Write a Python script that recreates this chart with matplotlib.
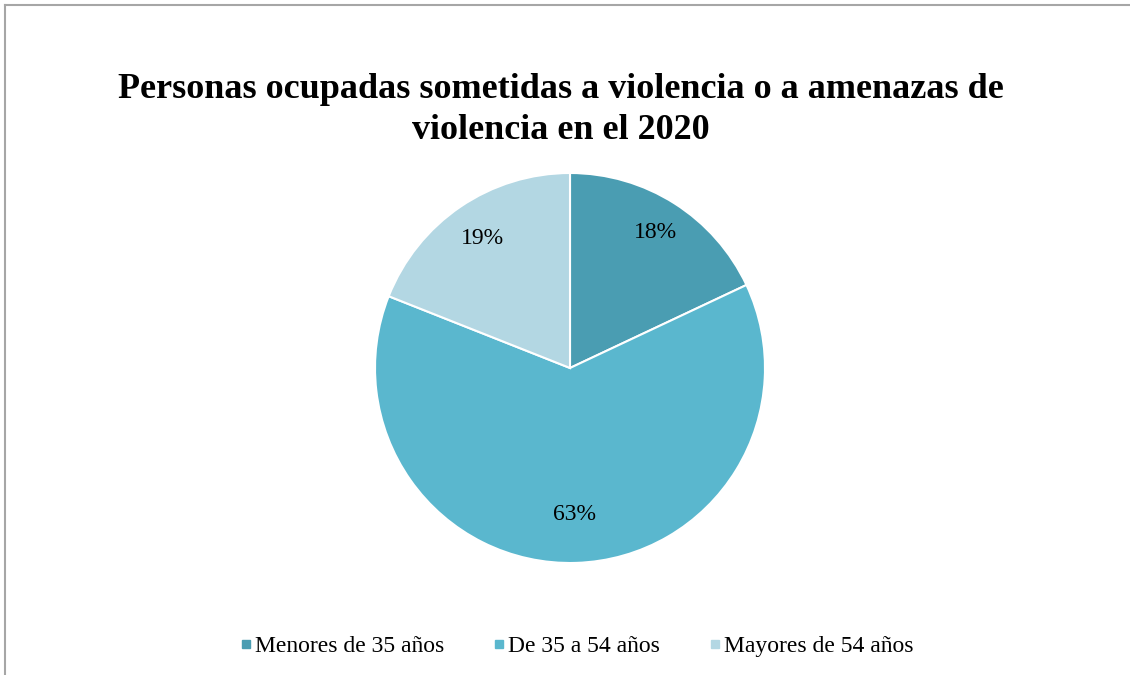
import matplotlib.pyplot as plt
from matplotlib.lines import Line2D
import numpy as np

labels = ["Menores de 35 años", "De 35 a 54 años", "Mayores de 54 años"]
shares = [18, 63, 19]
colors = ["#4A9DB2", "#5AB7CE", "#B3D7E3"]
title = "Personas ocupadas sometidas a violencia o a amenazas de\nviolencia en el 2020"

plt.rcParams["font.family"] = ["Liberation Serif", "DejaVu Serif"]

W, H = 1130, 675
fig = plt.figure(figsize=(W / 100, H / 100), dpi=100)

# frame lines on left and top only
fig.add_artist(Line2D([5 / W, 5 / W], [0, 1 - 5 / H], color="#A6A6A6", lw=1.5))
fig.add_artist(Line2D([5 / W, 1], [1 - 5 / H, 1 - 5 / H], color="#A6A6A6", lw=1.5))

cx, cy, r = 570, 368, 195
ax = fig.add_axes([(cx - r) / W, (H - cy - r) / H, 2 * r / W, 2 * r / H])
wedges, texts, autotexts = ax.pie(
    shares, colors=colors, startangle=90, counterclock=False,
    autopct=lambda p: "%d%%" % round(p), pctdistance=0.8,
    wedgeprops=dict(edgecolor="white", linewidth=1.5),
    textprops=dict(fontsize=17, color="black"))
ax.set_xlim(-1, 1)
ax.set_ylim(-1, 1)
ax.set_aspect("equal")

# per-slice label distance from the centre
label_dist = [0.82, 0.75, 0.80]
for w, t, d in zip(wedges, autotexts, label_dist):
    ang = np.deg2rad((w.theta1 + w.theta2) / 2)
    t.set_position((d * np.cos(ang), d * np.sin(ang)))

fig.text(561 / W, 1 - 110 / H, title, ha="center", va="center",
         fontsize=26, fontweight="bold", linespacing=1.32)

handles = [Line2D([], [], marker="s", ls="", color=c, markersize=6) for c in colors]
fig.legend(handles, labels, loc="center", bbox_to_anchor=(575 / W, 1 - 646 / H),
           ncol=3, frameon=False, fontsize=17, handletextpad=0.0,
           handlelength=0.8, columnspacing=1.9)

fig.savefig("out.png", dpi=100)
